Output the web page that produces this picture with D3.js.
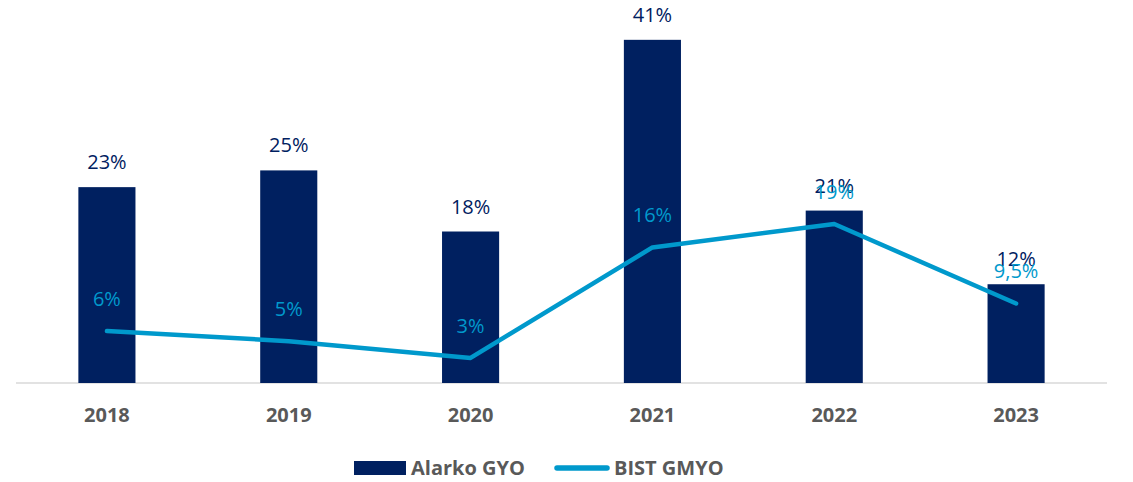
<!DOCTYPE html>
<html>
<head>
<meta charset="utf-8">
<script src="https://cdn.jsdelivr.net/npm/d3@7"></script>
<style>
  html, body { margin: 0; padding: 0; background: #ffffff; }
  svg { display: block; font-family: "Open Sans", "Liberation Sans", sans-serif; }
</style>
</head>
<body>
<svg id="chart" width="1133" height="482"></svg>
<script>
const years = ["2018", "2019", "2020", "2021", "2022", "2023"];
const alarkoValues = [23.4, 25.4, 18.1, 41, 20.6, 11.8];
const bistValues = [6.2, 5.0, 3.0, 16.2, 19.0, 9.5];
const alarkoLabels = ["23%", "25%", "18%", "41%", "21%", "12%"];
const bistLabels = ["6%", "5%", "3%", "16%", "19%", "9,5%"];
const seriesNames = ["Alarko GYO", "BIST GMYO"];

const navy = "#002060";
const blue = "#0099CC";
const gray = "#595959";

const svg = d3.select("#chart");

const x = d3.scaleBand()
  .domain(years)
  .range([16, 1107])
  .paddingInner(0.686)
  .paddingOuter(0.343);

const y = d3.scaleLinear()
  .domain([0, 45])
  .range([383, 383 - 45 * 8.37]);

// axis baseline
svg.append("line")
  .attr("x1", 16).attr("x2", 1107)
  .attr("y1", y(0)).attr("y2", y(0))
  .attr("stroke", "#d9d9d9").attr("stroke-width", 1.5);

// bars
svg.append("g").selectAll("rect")
  .data(years)
  .join("rect")
  .attr("x", d => x(d))
  .attr("width", x.bandwidth())
  .attr("y", (d, i) => y(alarkoValues[i]))
  .attr("height", (d, i) => y(0) - y(alarkoValues[i]))
  .attr("fill", navy);

// bar labels
svg.append("g").selectAll("text")
  .data(years)
  .join("text")
  .attr("x", d => x(d) + x.bandwidth() / 2)
  .attr("y", (d, i) => y(alarkoValues[i]) - 18)
  .attr("text-anchor", "middle")
  .attr("font-size", 20)
  .attr("fill", navy)
  .text((d, i) => alarkoLabels[i]);

// line
const line = d3.line()
  .x((d, i) => x(years[i]) + x.bandwidth() / 2)
  .y(d => y(d));

svg.append("path")
  .datum(bistValues)
  .attr("d", line)
  .attr("fill", "none")
  .attr("stroke", blue)
  .attr("stroke-width", 4.5)
  .attr("stroke-linecap", "round")
  .attr("stroke-linejoin", "round");

// line labels
svg.append("g").selectAll("text")
  .data(years)
  .join("text")
  .attr("x", d => x(d) + x.bandwidth() / 2)
  .attr("y", (d, i) => y(bistValues[i]) - 25)
  .attr("text-anchor", "middle")
  .attr("font-size", 20)
  .attr("fill", blue)
  .text((d, i) => bistLabels[i]);

// x axis labels
const xAxis = d3.axisBottom(x).tickSize(0).tickPadding(0);
const gx = svg.append("g")
  .attr("transform", `translate(0, ${y(0)})`)
  .call(xAxis);
gx.select(".domain").remove();
gx.selectAll("text")
  .attr("y", 39)
  .attr("dy", 0)
  .attr("font-size", 20)
  .attr("font-weight", "bold")
  .attr("font-family", "'Open Sans', sans-serif")
  .attr("fill", gray);

// legend
const lg = svg.append("g");
lg.append("rect")
  .attr("x", 354).attr("y", 461)
  .attr("width", 52).attr("height", 14)
  .attr("fill", navy);
lg.append("text")
  .attr("x", 411).attr("y", 475)
  .attr("font-size", 20).attr("font-weight", "bold")
  .attr("fill", gray)
  .text(seriesNames[0]);
lg.append("line")
  .attr("x1", 557).attr("x2", 607)
  .attr("y1", 468).attr("y2", 468)
  .attr("stroke", blue).attr("stroke-width", 5.5)
  .attr("stroke-linecap", "round");
lg.append("text")
  .attr("x", 614).attr("y", 475)
  .attr("font-size", 20).attr("font-weight", "bold")
  .attr("fill", gray)
  .text(seriesNames[1]);
</script>
</body>
</html>
